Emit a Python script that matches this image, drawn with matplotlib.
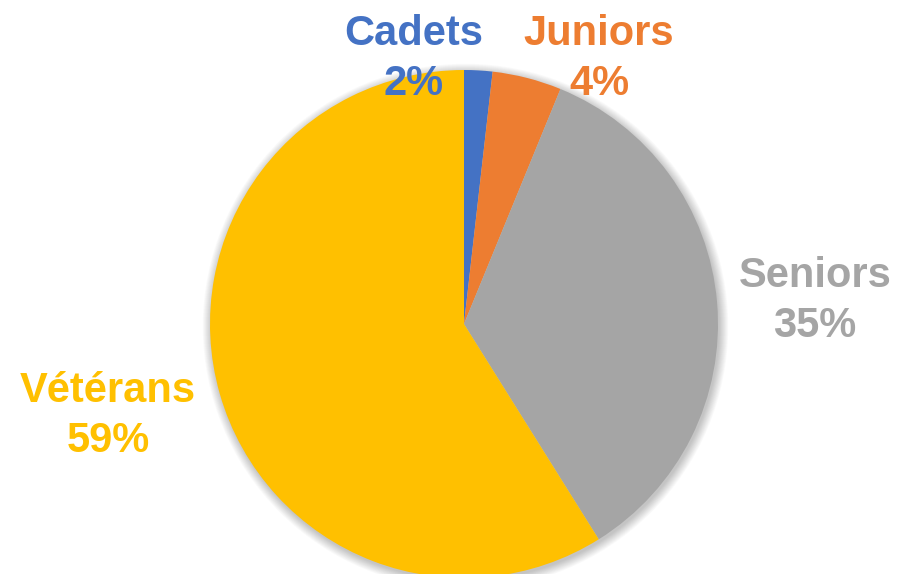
import matplotlib
matplotlib.use("Agg")
import matplotlib.pyplot as plt
from matplotlib.patches import Circle

categories = ["Cadets", "Juniors", "Seniors", "Vétérans"]
values = [1.8, 4.4, 34.9, 58.9]
pct_labels = ["2%", "4%", "35%", "59%"]
colors = ["#4472C4", "#ED7D31", "#A5A5A5", "#FFC000"]

W, H = 899, 574
fig = plt.figure(figsize=(W / 100, H / 100), dpi=100)
ax = fig.add_axes([0, 0, 1, 1])
ax.set_xlim(0, W)
ax.set_ylim(0, H)
ax.set_aspect("equal")
ax.axis("off")

cx, cy, r = 464, H - 324, 254

# soft shadow
for i in range(12):
    ax.add_patch(Circle((cx + 1.5, cy - 2.5), r + i * 0.8, color="black",
                        alpha=0.018, lw=0, zorder=0))

ax.pie(values, colors=colors, startangle=90, counterclock=False,
       center=(cx, cy), radius=r, wedgeprops=dict(linewidth=0),
       frame=True)
ax.set_xlim(0, W)
ax.set_ylim(0, H)
ax.axis("off")

# label positions (pixel coords: x center, baseline of first line)
label_pos = [(414, 45), (599, 45), (815, 287), (108, 402)]
font = dict(family=["Liberation Sans", "DejaVu Sans"], fontsize=30,
            fontweight="bold")
for name, pct, col, (x, yb) in zip(categories, pct_labels, colors, label_pos):
    ax.text(x, H - yb, name, color=col, ha="center", va="baseline", **font)
    ax.text(x, H - yb - 50, pct, color=col, ha="center", va="baseline", **font)

fig.savefig("out.png", dpi=100)
